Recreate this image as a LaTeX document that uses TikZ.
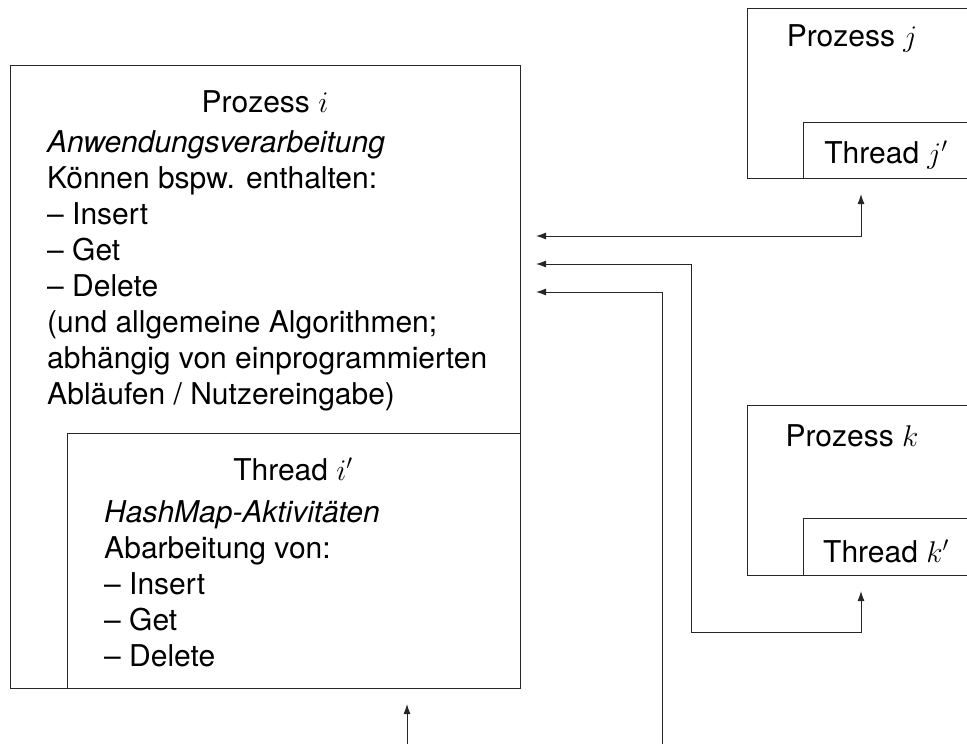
\RequirePackage{fix-cm}
\documentclass[tikz,border=0pt]{standalone}
\usepackage{fontspec}
\setmainfont{TeX Gyre Heros}
\usetikzlibrary{arrows.meta}
\begin{document}
\begin{tikzpicture}[x=1pt,y=-1pt,
  box/.style={draw=black!85,line width=1pt,inner sep=0pt,anchor=north west},
  txt/.style={inner sep=0pt,font=\fontsize{30}{36}\selectfont},
  tip/.tip={Latex[length=10pt,width=7pt]},
  conn/.style={draw=black!85,line width=1pt,tip-tip},
  conn1/.style={draw=black!85,line width=1pt,tip-}]
\useasboundingbox (0,0) rectangle (967,744);
\clip (0,0) rectangle (967,744);
% Process i
\node[box,minimum width=510pt,minimum height=623pt] (pi) at (10,65) {};
\node[box,minimum width=453pt,minimum height=255pt] (ti) at (67,433) {};
\node[txt,anchor=base] (pit) at (265,112) {Prozess $i$};
\foreach \t [count=\n] in {{\textit{Anwendungsverarbeitung}},{Können bspw. enthalten:},{– Insert},{– Get},{– Delete},{(und allgemeine Algorithmen;},{abhängig von einprogrammierten},{Abläufen / Nutzereingabe)}}
  \node[txt,anchor=base west] (pl\n) at (47,{152+36*(\n-1)}) {\t};
\node[txt,anchor=base] (tit) at (293,480) {Thread $i'$};
\foreach \t [count=\n] in {{\textit{HashMap-Aktivitäten}},{Abarbeitung von:},{– Insert},{– Get},{– Delete}}
  \node[txt,anchor=base west] (tl\n) at (104,{522+36*(\n-1)}) {\t};
% Process j
\node[box,minimum width=240pt,minimum height=170pt] (pj) at (747,8) {};
\node[box,minimum width=190pt,minimum height=56pt] (tj) at (803,122) {};
\node[txt,anchor=base] (pjt) at (852,46) {Prozess $j$};
\node[txt,anchor=base] (tjt) at (886,163) {Thread $j'$};
% Process k
\node[box,minimum width=240pt,minimum height=170pt] (pk) at (747,405) {};
\node[box,minimum width=190pt,minimum height=57pt] (tk) at (803,518) {};
\node[txt,anchor=base] (pkt) at (852,446) {Prozess $k$};
\node[txt,anchor=base] (tkt) at (886,562) {Thread $k'$};
% connectors
\coordinate (a1) at ([xshift=15pt]pi.east |- 0,236);
\coordinate (b1) at ([yshift=-15pt]tj.south -| 861,0);
\draw[conn] (a1) -| (b1);
\coordinate (a2) at ([xshift=15pt]pi.east |- 0,264);
\coordinate (b2) at ([yshift=-15pt]tk.south -| 861,0);
\draw[conn] (a2) -- (691,264) |- (861,632) -- (b2);
\coordinate (a3) at ([xshift=15pt]pi.east |- 0,292);
\coordinate (e3) at (662,750);
\draw[conn1] (a3) -| (e3);
\coordinate (a4) at ([yshift=-15pt]pi.south -| 407,0);
\coordinate (e4) at (407,750);
\draw[conn1] (a4) -- (e4);
\end{tikzpicture}
\end{document}
